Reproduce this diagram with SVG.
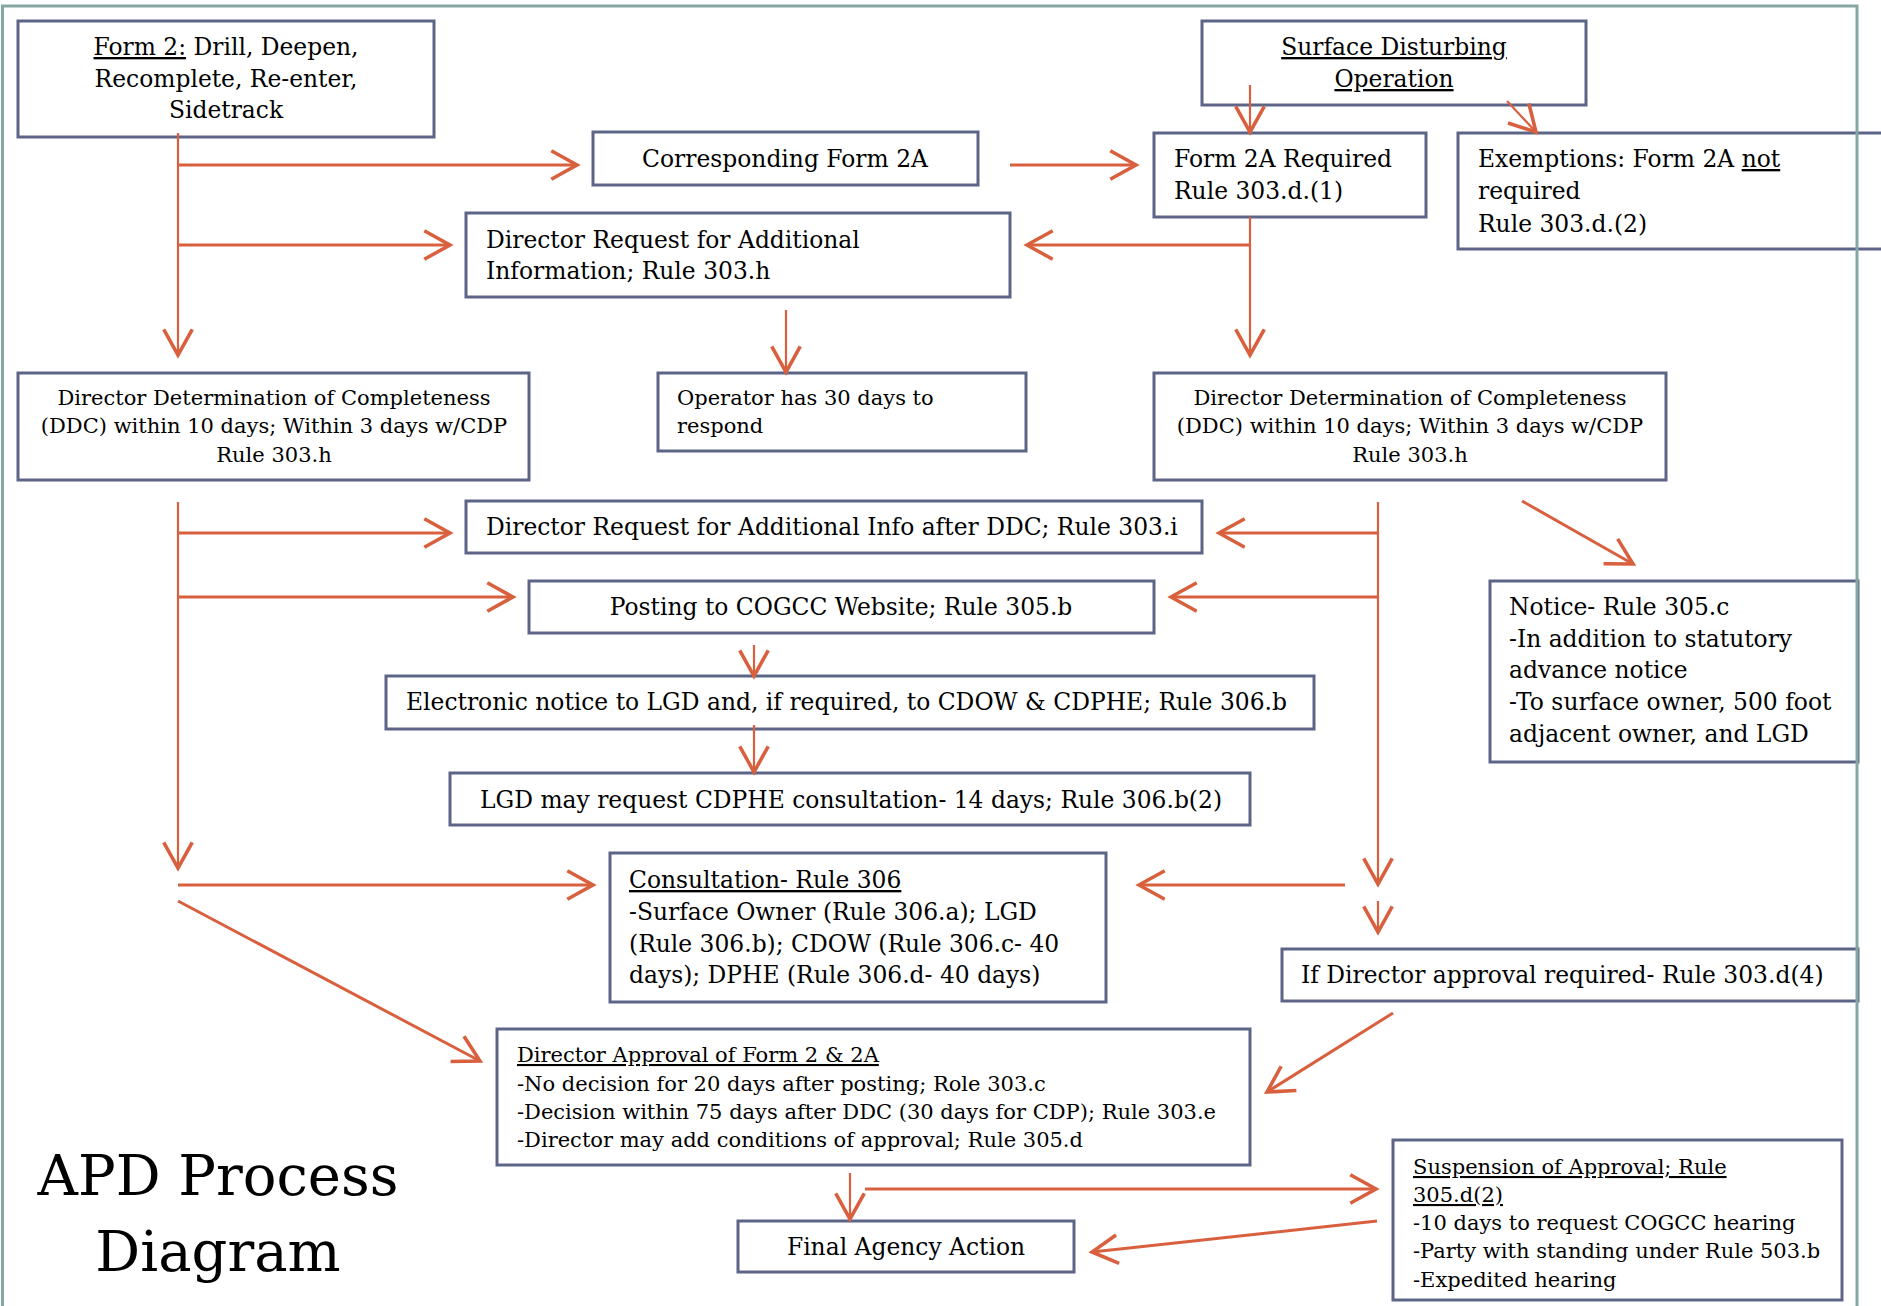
<svg xmlns="http://www.w3.org/2000/svg" width="1881" height="1306" viewBox="0 0 1881 1306">
<defs>
<style>
.box{fill:#ffffff;stroke:#5d6587;stroke-width:3}
.t{font-family:"DejaVu Serif","Liberation Serif",serif;font-size:23.4px;fill:#000}
.s{font-family:"DejaVu Serif","Liberation Serif",serif;font-size:21px;fill:#000}
.c{text-anchor:middle}
.u{text-decoration:underline}
.ln{fill:none;stroke:#d9603f;stroke-width:2.2;marker-end:url(#ah)}
.lt{fill:none;stroke:#d9603f;stroke-width:3;marker-end:url(#ah)}
.title{font-family:"DejaVu Serif","Liberation Serif",serif;font-size:56px;fill:#000;text-anchor:middle}
</style>
<marker id="ah" markerUnits="userSpaceOnUse" markerWidth="40" markerHeight="40" refX="0" refY="0" viewBox="-22 -14 26 28" orient="auto" overflow="visible">
<path d="M-18,-10 L0,0 L-18,10" fill="none" stroke="#d9603f" stroke-width="2.5"/>
</marker>
</defs>
<rect x="0" y="0" width="1881" height="1306" fill="#ffffff"/>

<g id="form2">
<rect class="box" x="18" y="21" width="416" height="116"/>
<text class="t c" x="226" y="55"><tspan class="u">Form 2:</tspan> Drill, Deepen,</text>
<text class="t c" x="226" y="87">Recomplete, Re-enter,</text>
<text class="t c" x="226" y="118">Sidetrack</text>
</g>
<g id="surface">
<rect class="box" x="1202" y="21" width="384" height="84"/>
<text class="t c u" x="1394" y="55">Surface Disturbing</text>
<text class="t c u" x="1394" y="87">Operation</text>
</g>
<g id="corresponding">
<rect class="box" x="593" y="132" width="385" height="53"/>
<text class="t c" x="785" y="167">Corresponding Form 2A</text>
</g>
<g id="form2a-required">
<rect class="box" x="1154" y="133" width="272" height="84"/>
<text class="t" x="1174" y="167">Form 2A Required</text>
<text class="t" x="1174" y="199">Rule 303.d.(1)</text>
</g>
<g id="exemptions">
<rect class="box" x="1458" y="133" width="440" height="116"/>
<text class="t" x="1478" y="167">Exemptions: Form 2A <tspan class="u">not</tspan></text>
<text class="t" x="1478" y="199">required</text>
<text class="t" x="1478" y="232">Rule 303.d.(2)</text>
</g>
<g id="director-request">
<rect class="box" x="466" y="213" width="544" height="84"/>
<text class="t" x="486" y="248">Director Request for Additional</text>
<text class="t" x="486" y="279">Information; Rule 303.h</text>
</g>
<g id="ddc-left">
<rect class="box" x="18" y="373" width="511" height="107"/>
<text class="s c" x="274" y="405">Director Determination of Completeness</text>
<text class="s c" x="274" y="433">(DDC) within 10 days; Within 3 days w/CDP</text>
<text class="s c" x="274" y="462">Rule 303.h</text>
</g>
<g id="operator">
<rect class="box" x="658" y="373" width="368" height="78"/>
<text class="s" x="677" y="405">Operator has 30 days to</text>
<text class="s" x="677" y="433">respond</text>
</g>
<g id="ddc-right">
<rect class="box" x="1154" y="373" width="512" height="107"/>
<text class="s c" x="1410" y="405">Director Determination of Completeness</text>
<text class="s c" x="1410" y="433">(DDC) within 10 days; Within 3 days w/CDP</text>
<text class="s c" x="1410" y="462">Rule 303.h</text>
</g>
<g id="request-after-ddc">
<rect class="box" x="466" y="501" width="736" height="52"/>
<text class="t" x="486" y="535">Director Request for Additional Info after DDC; Rule 303.i</text>
</g>
<g id="posting">
<rect class="box" x="529" y="581" width="625" height="52"/>
<text class="t c" x="841" y="615">Posting to COGCC Website; Rule 305.b</text>
</g>
<g id="notice">
<rect class="box" x="1490" y="581" width="368" height="181"/>
<text class="t" x="1509" y="615">Notice- Rule 305.c</text>
<text class="t" x="1509" y="647">-In addition to statutory</text>
<text class="t" x="1509" y="678">advance notice</text>
<text class="t" x="1509" y="710">-To surface owner, 500 foot</text>
<text class="t" x="1509" y="742">adjacent owner, and LGD</text>
</g>
<g id="electronic">
<rect class="box" x="386" y="676" width="928" height="53"/>
<text class="t" x="406" y="710">Electronic notice to LGD and, if required, to CDOW &amp; CDPHE; Rule 306.b</text>
</g>
<g id="lgd">
<rect class="box" x="450" y="773" width="800" height="52"/>
<text class="t" x="480" y="808">LGD may request CDPHE consultation- 14 days; Rule 306.b(2)</text>
</g>
<g id="consultation">
<rect class="box" x="610" y="853" width="496" height="149"/>
<text class="t u" x="629" y="888">Consultation- Rule 306</text>
<text class="t" x="629" y="920">-Surface Owner (Rule 306.a); LGD</text>
<text class="t" x="629" y="952">(Rule 306.b); CDOW (Rule 306.c- 40</text>
<text class="t" x="629" y="983">days); DPHE (Rule 306.d- 40 days)</text>
</g>
<g id="if-director">
<rect class="box" x="1282" y="949" width="576" height="52"/>
<text class="t" x="1301" y="983">If Director approval required- Rule 303.d(4)</text>
</g>
<g id="director-approval">
<rect class="box" x="497" y="1029" width="753" height="136"/>
<text class="s u" x="517" y="1062">Director Approval of Form 2 &amp; 2A</text>
<text class="s" x="517" y="1091">-No decision for 20 days after posting; Role 303.c</text>
<text class="s" x="517" y="1119">-Decision within 75 days after DDC (30 days for CDP); Rule 303.e</text>
<text class="s" x="517" y="1147">-Director may add conditions of approval; Rule 305.d</text>
</g>
<g id="final">
<rect class="box" x="738" y="1221" width="336" height="51"/>
<text class="t c" x="906" y="1255">Final Agency Action</text>
</g>
<g id="suspension">
<rect class="box" x="1393" y="1140" width="449" height="160"/>
<text class="s u" x="1413" y="1174">Suspension of Approval; Rule</text>
<text class="s u" x="1413" y="1202">305.d(2)</text>
<text class="s" x="1413" y="1230">-10 days to request COGCC hearing</text>
<text class="s" x="1413" y="1258">-Party with standing under Rule 503.b</text>
<text class="s" x="1413" y="1287">-Expedited hearing</text>
</g>
<g id="title">
<text class="title" x="218" y="1195">APD Process</text>
<text class="title" x="218" y="1271">Diagram</text>
</g>

<g id="connectors">
<path class="ln" d="M178,133 V355"/>
<path class="lt" d="M178,165 H577"/>
<path class="lt" d="M178,245 H450"/>
<path class="ln" d="M786,310 V372"/>
<path class="ln" d="M1250,85 V132"/>
<path class="ln" d="M1507,101 L1536,132"/>
<path class="lt" d="M1010,165 H1136"/>
<path class="ln" d="M1250,217 V355"/>
<path class="lt" d="M1250,245 H1027"/>
<path class="ln" d="M178,502 V868"/>
<path class="lt" d="M178,533 H450"/>
<path class="lt" d="M178,597 H513"/>
<path class="lt" d="M178,885 H593"/>
<path class="lt" d="M178,901 L480,1061"/>
<path class="ln" d="M1378,502 V884"/>
<path class="lt" d="M1378,533 H1219"/>
<path class="lt" d="M1378,597 H1171"/>
<path class="lt" d="M1345,885 H1139"/>
<path class="ln" d="M1378,901 V932"/>
<path class="lt" d="M1522,501 L1633,564"/>
<path class="ln" d="M754,645 V676"/>
<path class="ln" d="M754,725 V772"/>
<path class="lt" d="M1393,1013 L1267,1092"/>
<path class="ln" d="M850,1173 V1219"/>
<path class="lt" d="M865,1189 H1376"/>
<path class="lt" d="M1377,1221 L1092,1252"/>
</g>

<g id="frame">
<path d="M2.5,1306 V6 H1857 V1306" fill="none" stroke="#85a7a3" stroke-width="3"/>
</g>
</svg>
